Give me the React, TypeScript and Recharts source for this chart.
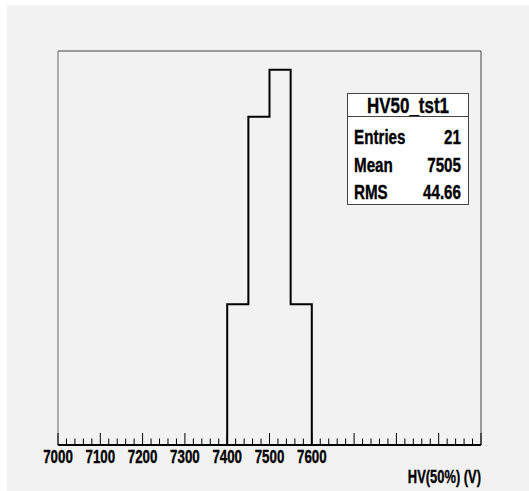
import { LineChart, Line, XAxis, YAxis, ReferenceLine } from 'recharts';

// bin edges (low edges + last upper edge) and counts of HV50_tst1
const BIN_EDGES = [7400, 7450, 7500, 7550, 7600];
const BIN_COUNTS = [3, 7, 8, 3];
const X_MIN = 7000;
const X_MAX = 8000;
const Y_MAX = 8.4;

const MAJOR_TICKS = [7000, 7100, 7200, 7300, 7400, 7500, 7600, 7700, 7800, 7900, 8000];
const LABELLED_TICKS = [7000, 7100, 7200, 7300, 7400, 7500, 7600];
const STATS = [
  { label: 'Entries', value: '21' },
  { label: 'Mean', value: '7505' },
  { label: 'RMS', value: '44.66' },
];

const FONT = '"Liberation Sans", Arial, sans-serif';

// step outline: start at x-min, walk through every bin, back down to 0
const points = [
  { x: X_MIN, count: 0 },
  ...BIN_COUNTS.map((c, i) => ({ x: BIN_EDGES[i], count: c })),
  { x: BIN_EDGES[BIN_EDGES.length - 1], count: 0 },
  { x: X_MAX, count: 0 },
];

const allTicks: number[] = [];
MAJOR_TICKS.forEach((t, i) => {
  allTicks.push(t);
  if (i < MAJOR_TICKS.length - 1) [20, 40, 60, 80].forEach((d) => allTicks.push(t + d));
});

function XTick(props: any) {
  const { x, y, payload } = props;
  const v = payload.value as number;
  const major = v % 100 === 0;
  return (
    <g>
      <line x1={x} x2={x} y1={y} y2={y - (major ? 12 : 6.5)} stroke="#000" strokeWidth={1} />
      {major && LABELLED_TICKS.includes(v) && (
        <text
          transform={`translate(${x},${y + 18}) scale(0.72,1)`}
          textAnchor="middle"
          fontFamily={FONT}
          fontWeight="bold"
          fontSize={18.5}
          fill="#000"
          stroke="#000"
          strokeWidth={0.35}
        >
          {v}
        </text>
      )}
    </g>
  );
}

function Squeezed({ x, y, anchor, size, sx, children }: any) {
  return (
    <text
      transform={`translate(${x},${y}) scale(${sx},1)`}
      textAnchor={anchor}
      fontFamily={FONT}
      fontWeight="bold"
      fontSize={size}
      fill="#000"
      stroke="#000"
      strokeWidth={0.35}
    >
      {children}
    </text>
  );
}

export default function App() {
  return (
    <div style={{ position: 'absolute', left: 0, top: 0, width: 529, height: 491, background: '#fff' }}>
      <div style={{ position: 'absolute', left: 7, top: 5, width: 522, height: 486, background: '#f2f2f2' }} />
      <div style={{ position: 'absolute', left: 0, top: 0 }}>
        <LineChart
          width={529}
          height={491}
          data={points}
          margin={{ top: 51, right: 48, bottom: 0, left: 58 }}
        >
          <XAxis
            dataKey="x"
            type="number"
            domain={[X_MIN, X_MAX]}
            ticks={allTicks}
            interval={0}
            height={46}
            tickLine={false}
            tickSize={0}
            tickMargin={0}
            tick={(p: any) => <XTick {...p} />}
            axisLine={{ stroke: '#000', strokeWidth: 2 }}
          />
          <YAxis type="number" domain={[0, Y_MAX]} hide width={0} />
          <ReferenceLine y={Y_MAX} stroke="#444" strokeWidth={1} />
          <ReferenceLine x={X_MIN} stroke="#666" strokeWidth={1} />
          <ReferenceLine x={X_MAX} stroke="#444" strokeWidth={1} />
          <Line
            dataKey="count"
            type="stepAfter"
            stroke="#000"
            strokeWidth={2}
            dot={false}
            isAnimationActive={false}
          />
        </LineChart>
      </div>
      <svg
        width={529}
        height={491}
        style={{ position: 'absolute', left: 0, top: 0, pointerEvents: 'none' }}
      >
        <rect x={347.5} y={93.5} width={121} height={111} fill="#fff" stroke="#444" strokeWidth={1} />
        <line x1={347.5} x2={468.5} y1={116.5} y2={116.5} stroke="#444" strokeWidth={1} />
        <Squeezed x={408} y={113} anchor="middle" size={22} sx={0.77}>
          HV50_tst1
        </Squeezed>
        {STATS.map((s, i) => (
          <g key={s.label}>
            <Squeezed x={354} y={144 + i * 27.5} anchor="start" size={20} sx={0.76}>
              {s.label}
            </Squeezed>
            <Squeezed x={461} y={144 + i * 27.5} anchor="end" size={20} sx={0.76}>
              {s.value}
            </Squeezed>
          </g>
        ))}
        <Squeezed x={481} y={482.5} anchor="end" size={19} sx={0.68}>
          HV(50%) (V)
        </Squeezed>
      </svg>
    </div>
  );
}
